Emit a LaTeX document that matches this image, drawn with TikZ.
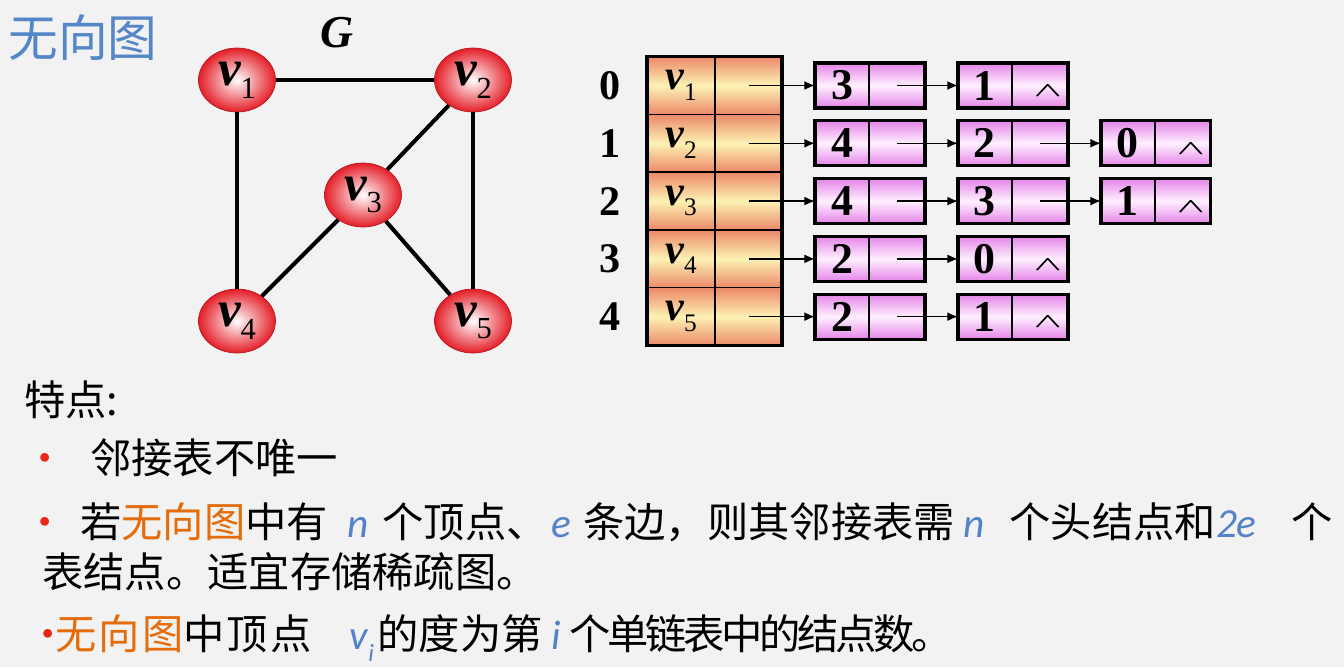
\documentclass[tikz,border=0pt]{standalone}
\usepackage{fontspec}
\usepackage{graphicx}
\setmainfont{Liberation Serif}
\newfontfamily\cjk{Noto Sans CJK SC}
\newfontfamily\latsans{Carlito}
\usetikzlibrary{shapes.geometric, arrows.meta, positioning}

\definecolor{bgray}{HTML}{F2F2F2}
\definecolor{tblue}{RGB}{84,134,200}
\definecolor{vred}{RGB}{228,30,40}
\definecolor{hsal}{RGB}{236,136,104}
\definecolor{hyel}{RGB}{252,242,180}
\definecolor{lvio}{RGB}{228,132,232}
\definecolor{lpale}{RGB}{255,240,255}
\definecolor{bred}{RGB}{230,40,20}
\definecolor{gorange}{RGB}{228,108,10}
\definecolor{nblue}{RGB}{84,130,200}

\newcommand{\vx}[1]{{\bfseries\itshape v}\raisebox{-0.25em}{\scalebox{0.6}{#1}}}
\newcommand{\nil}{\hspace{0.32cm}\smash{\raisebox{-6.4pt}{\scalebox{1}[0.55]{\fontsize{20}{20}\selectfont\boldmath$\wedge$}}}}
\newcommand{\bul}[1]{\makebox[#1][l]{\makebox[0pt]{\textcolor{bred}{•}}}}
\newcommand{\lat}[1]{{\latsans\itshape\textcolor{nblue}{#1}}}
\newcommand{\org}[1]{\textcolor{gorange}{#1}}

\begin{document}
\begin{tikzpicture}[x=0.02cm, y=-0.02cm, >={Latex[length=6pt,width=5pt]},
  vert/.style={ellipse, draw=vred!80!black, inner sep=0pt, minimum width=1.54cm, minimum height=1.28cm,
    inner color=white, outer color=vred, font=\fontsize{29}{30}\selectfont},
  edge/.style={line width=2.3pt},
  head/.style={rectangle, draw, line width=0.8pt, outer sep=0pt, inner sep=0pt, minimum width=#1,
    minimum height=1.156cm, top color=hsal, bottom color=hsal, middle color=hyel, font=\fontsize{24}{24}\selectfont},
  cell/.style={rectangle, draw, line width=0.8pt, outer sep=0pt, inner sep=0pt, minimum width=#1,
    minimum height=0.9cm, top color=lvio, bottom color=lvio, middle color=lpale, font=\bfseries\fontsize{25}{25}\selectfont},
  box/.style={line width=1.8pt},
  link/.style={->, line width=0.8pt},
  num/.style={font=\bfseries\fontsize{24}{24}\selectfont},
  txt/.style={anchor=west, inner sep=0pt, font=\cjk\fontsize{23.5}{28}\selectfont}]
  \fill[bgray] (0,0) rectangle (1344,667);
  \useasboundingbox (0,0) rectangle (1344,667);

  % graph G
  \node[txt, text=tblue, font=\cjk\fontsize{28.3}{30}\selectfont] (title) at (8,38) {无向图};
  \node[font=\bfseries\itshape\fontsize{26}{26}\selectfont] (glabel) at (337,33) {G};
  \node[vert] (v1) at (237,80) {\vx{1}};
  \node[vert] (v2) at (473,80) {\vx{2}};
  \node[vert] (v3) at (363,195) {\vx{3}};
  \node[vert] (v4) at (237,321) {\vx{4}};
  \node[vert] (v5) at (473,321) {\vx{5}};
  \draw[edge] (v1) -- (v2);
  \draw[edge] (v1) -- (v4);
  \draw[edge] (v2) -- (v3);
  \draw[edge] (v2) -- (v5);
  \draw[edge] (v3) -- (v4);
  \draw[edge] (v3) -- (v5);

  % head nodes
  \node[head=1.36cm] (h0) at (681,85.5) {\vx{1}};
  \node[head=1.34cm, right=0pt of h0] (p0) {};
  \node[head=1.36cm, below=0pt of h0] (h1) {\vx{2}};
  \node[head=1.34cm, right=0pt of h1] (p1) {};
  \node[head=1.36cm, below=0pt of h1] (h2) {\vx{3}};
  \node[head=1.34cm, right=0pt of h2] (p2) {};
  \node[head=1.36cm, below=0pt of h2] (h3) {\vx{4}};
  \node[head=1.34cm, right=0pt of h3] (p3) {};
  \node[head=1.36cm, below=0pt of h3] (h4) {\vx{5}};
  \node[head=1.34cm, right=0pt of h4] (p4) {};
  \draw[box] (h0.north west) rectangle (p4.south east);
  \node[num, left=0.4cm of h0] (i0) {0};
  \node[num, left=0.4cm of h1] (i1) {1};
  \node[num, left=0.4cm of h2] (i2) {2};
  \node[num, left=0.4cm of h3] (i3) {3};
  \node[num, left=0.4cm of h4] (i4) {4};

  % edge lists
  \node[cell=1.08cm, right=0.66cm of p0] (a00) {3};
  \node[cell=1.12cm, right=0pt of a00] (n00) {};
  \node[cell=1.08cm, right=0.66cm of n00] (a01) {1};
  \node[cell=1.12cm, right=0pt of a01] (n01) {\nil};
  \node[cell=1.08cm, right=0.66cm of p1] (a10) {4};
  \node[cell=1.12cm, right=0pt of a10] (n10) {};
  \node[cell=1.08cm, right=0.66cm of n10] (a11) {2};
  \node[cell=1.12cm, right=0pt of a11] (n11) {};
  \node[cell=1.08cm, right=0.66cm of n11] (a12) {0};
  \node[cell=1.12cm, right=0pt of a12] (n12) {\nil};
  \node[cell=1.08cm, right=0.66cm of p2] (a20) {4};
  \node[cell=1.12cm, right=0pt of a20] (n20) {};
  \node[cell=1.08cm, right=0.66cm of n20] (a21) {3};
  \node[cell=1.12cm, right=0pt of a21] (n21) {};
  \node[cell=1.08cm, right=0.66cm of n21] (a22) {1};
  \node[cell=1.12cm, right=0pt of a22] (n22) {\nil};
  \node[cell=1.08cm, right=0.66cm of p3] (a30) {2};
  \node[cell=1.12cm, right=0pt of a30] (n30) {};
  \node[cell=1.08cm, right=0.66cm of n30] (a31) {0};
  \node[cell=1.12cm, right=0pt of a31] (n31) {\nil};
  \node[cell=1.08cm, right=0.66cm of p4] (a40) {2};
  \node[cell=1.12cm, right=0pt of a40] (n40) {};
  \node[cell=1.08cm, right=0.66cm of n40] (a41) {1};
  \node[cell=1.12cm, right=0pt of a41] (n41) {\nil};
  \foreach \k in {00,01,10,11,12,20,21,22,30,31,40,41}
    \draw[box] (a\k.north west) rectangle (n\k.south east);
  \draw[link] (p0.center) -- (a00);
  \draw[link] (n00.center) -- (a01);
  \draw[link] (p1.center) -- (a10);
  \draw[link] (n10.center) -- (a11);
  \draw[link] (n11.center) -- (a12);
  \draw[link] (p2.center) -- (a20);
  \draw[link] (n20.center) -- (a21);
  \draw[link] (n21.center) -- (a22);
  \draw[link] (p3.center) -- (a30);
  \draw[link] (n30.center) -- (a31);
  \draw[link] (p4.center) -- (a40);
  \draw[link] (n40.center) -- (a41);

  % notes
  \node[txt] (feat) at (24,400) {特点:};
  \node[txt] (pt1) at (45,458) {\bul{0.9cm}邻接表不唯一};
  \node[txt] (pt2) at (45,522) {\bul{0.7cm}若\org{无向图}中有\hspace{11pt}\lat{n}\hspace{8pt}个顶点、\hspace{2pt}\lat{e}\hspace{7pt}条边，则其邻接表需\hspace{5pt}\lat{n}\hspace{14pt}个头结点和\lat{2e}\hspace{20pt}个};
  \node[txt] (pt2b) at (42,572) {表结点。适宜存储稀疏图。};
  \node[txt] (pt3) at (48,638) {\bul{0.14cm}{\addfontfeature{LetterSpace=5}\org{无向图}中顶点}\hspace{22pt}\lat{v}\raisebox{-0.3em}{\lat{\fontsize{14}{14}\selectfont i}}\hspace{2pt}的度为第\hspace{5pt}\lat{i}\hspace{5pt}{\addfontfeature{LetterSpace=-8}个单链表中的结点数。}};
\end{tikzpicture}
\end{document}
